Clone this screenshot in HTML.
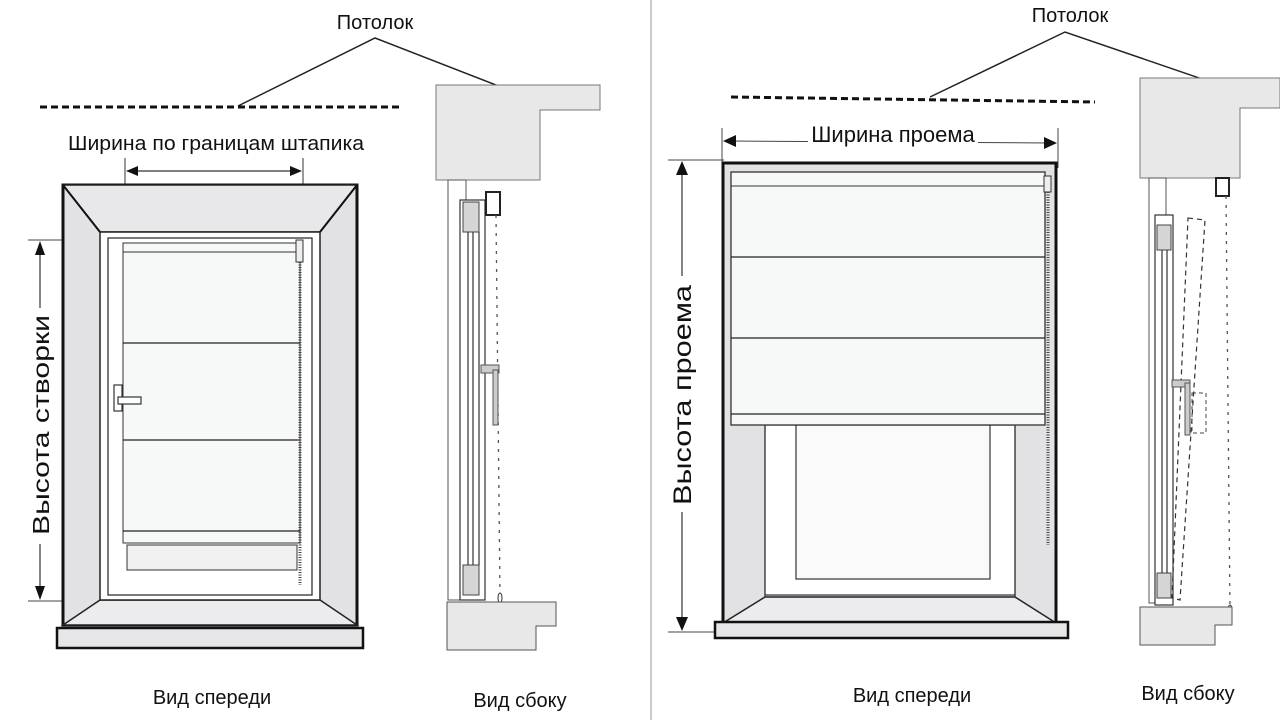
<!DOCTYPE html>
<html><head><meta charset="utf-8"><style>
html,body{margin:0;padding:0;background:#fff;}
svg{display:block;font-family:"Liberation Sans",sans-serif;}
</style></head><body>
<svg width="1280" height="720" viewBox="0 0 1280 720" xmlns="http://www.w3.org/2000/svg">
<rect width="1280" height="720" fill="#fff"/>
<line x1="651" y1="0" x2="651" y2="720" stroke="#bbb" stroke-width="1.5"/>

<!-- ===== LEFT PANEL ===== -->
<text x="375" y="29" font-size="20" text-anchor="middle" fill="#111">Потолок</text>
<polyline points="238,106 375,38 555,108" fill="none" stroke="#222" stroke-width="1.5"/>
<line x1="40" y1="107" x2="400" y2="107" stroke="#111" stroke-width="3" stroke-dasharray="7,4"/>

<!-- width dim -->
<text x="68" y="150" font-size="20" textLength="296" lengthAdjust="spacingAndGlyphs" fill="#111">Ширина по границам штапика</text>
<line x1="125" y1="158" x2="125" y2="262" stroke="#333" stroke-width="1"/>
<line x1="303" y1="158" x2="303" y2="262" stroke="#333" stroke-width="1"/>
<line x1="132" y1="171" x2="296" y2="171" stroke="#333" stroke-width="1.2"/>
<polygon points="126,171 138,166 138,176" fill="#111"/>
<polygon points="302,171 290,166 290,176" fill="#111"/>

<!-- height dim -->
<line x1="28" y1="240" x2="120" y2="240" stroke="#444" stroke-width="1"/>
<line x1="28" y1="601" x2="120" y2="601" stroke="#444" stroke-width="1"/>
<line x1="40" y1="245" x2="40" y2="596" stroke="#333" stroke-width="1.2"/>
<polygon points="40,241 35,255 45,255" fill="#111"/>
<polygon points="40,600 35,586 45,586" fill="#111"/>
<rect x="26" y="308" width="28" height="236" fill="#fff"/>
<text transform="translate(49,535) rotate(-90)" font-size="23" textLength="220" lengthAdjust="spacingAndGlyphs" fill="#111">Высота створки</text>

<!-- front window -->
<rect x="63" y="185" width="294" height="440" fill="#e2e2e4" stroke="#111" stroke-width="3"/>
<polygon points="63,185 357,185 320,232 100,232" fill="#e8e8ea" stroke="#222" stroke-width="1.5"/>
<polygon points="63,625 357,625 320,600 100,600" fill="#ececee" stroke="#222" stroke-width="1.5"/>
<line x1="63" y1="185" x2="100" y2="232" stroke="#111" stroke-width="2"/>
<line x1="357" y1="185" x2="320" y2="232" stroke="#111" stroke-width="2"/>
<rect x="100" y="232" width="220" height="368" fill="#fff" stroke="#222" stroke-width="1.5"/>
<rect x="108" y="238" width="204" height="357" fill="#fff" stroke="#333" stroke-width="1.3"/>
<rect x="123" y="243" width="177" height="300" fill="#f7f8f8" stroke="#333" stroke-width="1"/>
<line x1="123" y1="252" x2="300" y2="252" stroke="#333" stroke-width="1"/>
<line x1="123" y1="343" x2="300" y2="343" stroke="#222" stroke-width="1.3"/>
<line x1="123" y1="440" x2="300" y2="440" stroke="#222" stroke-width="1.3"/>
<line x1="123" y1="531" x2="300" y2="531" stroke="#222" stroke-width="1.3"/>
<rect x="127" y="545" width="170" height="25" fill="#f0f0f0" stroke="#333" stroke-width="1"/>
<rect x="296" y="240" width="7" height="22" fill="#eee" stroke="#333" stroke-width="1"/>
<line x1="300" y1="262" x2="300" y2="585" stroke="#444" stroke-width="3" stroke-dasharray="1,1.5"/>
<rect x="114" y="385" width="8" height="26" fill="#fff" stroke="#333" stroke-width="1.2"/>
<rect x="118" y="397" width="23" height="7" fill="#fff" stroke="#333" stroke-width="1.2"/>
<rect x="57" y="628" width="306" height="20" fill="#e6e6e8" stroke="#111" stroke-width="2.5"/>

<!-- left side view -->
<polygon points="436,85 600,85 600,110 540,110 540,180 436,180" fill="#e8e8e8" stroke="#777" stroke-width="1"/>
<rect x="448" y="180" width="18" height="420" fill="#fff" stroke="#555" stroke-width="1"/>
<rect x="460" y="200" width="25" height="400" fill="#fff" stroke="#333" stroke-width="1.2"/>
<rect x="463" y="202" width="16" height="30" fill="#d5d5d5" stroke="#444" stroke-width="1"/>
<rect x="463" y="565" width="16" height="30" fill="#d5d5d5" stroke="#444" stroke-width="1"/>
<line x1="468" y1="232" x2="468" y2="565" stroke="#333" stroke-width="1.2"/>
<line x1="473" y1="232" x2="473" y2="565" stroke="#333" stroke-width="1.2"/>
<line x1="479" y1="232" x2="479" y2="565" stroke="#333" stroke-width="1.2"/>
<rect x="486" y="192" width="14" height="23" fill="#fff" stroke="#222" stroke-width="2"/>
<line x1="496" y1="215" x2="500" y2="595" stroke="#555" stroke-width="1.3" stroke-dasharray="3,6"/>
<ellipse cx="500" cy="598" rx="2" ry="5" fill="#fff" stroke="#333"/>
<rect x="481" y="365" width="18" height="8" fill="#ccc" stroke="#555" stroke-width="1"/>
<rect x="493" y="370" width="5" height="55" fill="#ccc" stroke="#555" stroke-width="1"/>
<polygon points="447,602 556,602 556,626 536,626 536,650 447,650" fill="#e8e8e8" stroke="#555" stroke-width="1"/>

<text x="212" y="704" font-size="20" text-anchor="middle" fill="#111">Вид спереди</text>
<text x="520" y="707" font-size="20" text-anchor="middle" fill="#111">Вид сбоку</text>

<!-- ===== RIGHT PANEL ===== -->
<text x="1070" y="22" font-size="20" text-anchor="middle" fill="#111">Потолок</text>
<polyline points="930,97 1065,32 1275,104" fill="none" stroke="#222" stroke-width="1.5"/>
<line x1="731" y1="97" x2="1095" y2="102" stroke="#111" stroke-width="3" stroke-dasharray="7,4"/>

<!-- width dim -->
<line x1="722" y1="128" x2="722" y2="165" stroke="#444" stroke-width="1"/>
<line x1="1058" y1="128" x2="1058" y2="168" stroke="#444" stroke-width="1"/>
<line x1="730" y1="141" x2="1050" y2="143" stroke="#444" stroke-width="1"/>
<polygon points="723,141 736,135 736,147" fill="#111"/>
<polygon points="1057,143 1044,137 1044,149" fill="#111"/>
<rect x="808" y="120" width="170" height="30" fill="#fff"/>
<text x="893" y="142" font-size="22" text-anchor="middle" fill="#111">Ширина проема</text>

<!-- height dim -->
<line x1="668" y1="160" x2="724" y2="160" stroke="#444" stroke-width="1"/>
<line x1="668" y1="632" x2="720" y2="632" stroke="#444" stroke-width="1"/>
<line x1="682" y1="165" x2="682" y2="628" stroke="#333" stroke-width="1.2"/>
<polygon points="682,161 676,175 688,175" fill="#111"/>
<polygon points="682,631 676,617 688,617" fill="#111"/>
<rect x="668" y="276" width="30" height="236" fill="#fff"/>
<text transform="translate(691,505) rotate(-90)" font-size="25" textLength="220" lengthAdjust="spacingAndGlyphs" fill="#111">Высота проема</text>

<!-- front window -->
<rect x="723" y="163" width="333" height="460" fill="#e2e2e4" stroke="#111" stroke-width="3"/>
<rect x="765" y="425" width="250" height="170" fill="#fff" stroke="#333" stroke-width="1.2"/>
<rect x="796" y="425" width="194" height="154" fill="#fafafa" stroke="#333" stroke-width="1.2"/>
<polygon points="723,623 1056,623 1015,597 765,597" fill="#ececee" stroke="#222" stroke-width="1.5"/>
<line x1="765" y1="425" x2="765" y2="597" stroke="#333" stroke-width="1.2"/>
<line x1="1015" y1="425" x2="1015" y2="597" stroke="#333" stroke-width="1.2"/>
<rect x="731" y="172" width="314" height="253" fill="#f7f8f8" stroke="#333" stroke-width="1.3"/>
<line x1="731" y1="186" x2="1045" y2="186" stroke="#333" stroke-width="1"/>
<line x1="731" y1="257" x2="1045" y2="257" stroke="#222" stroke-width="1.3"/>
<line x1="731" y1="338" x2="1045" y2="338" stroke="#222" stroke-width="1.3"/>
<line x1="731" y1="414" x2="1045" y2="414" stroke="#222" stroke-width="1.3"/>
<rect x="1044" y="176" width="7" height="16" fill="#eee" stroke="#333" stroke-width="1"/>
<line x1="1048" y1="192" x2="1048" y2="545" stroke="#444" stroke-width="3" stroke-dasharray="1,1.5"/>
<rect x="715" y="622" width="353" height="16" fill="#e6e6e8" stroke="#111" stroke-width="2.5"/>

<!-- right side view -->
<polygon points="1140,78 1280,78 1280,108 1240,108 1240,178 1140,178" fill="#e8e8e8" stroke="#777" stroke-width="1"/>
<rect x="1149" y="178" width="17" height="425" fill="#fff" stroke="#555" stroke-width="1"/>
<rect x="1155" y="215" width="18" height="390" fill="#fff" stroke="#333" stroke-width="1.2"/>
<rect x="1157" y="225" width="14" height="25" fill="#d5d5d5" stroke="#444" stroke-width="1"/>
<rect x="1157" y="573" width="14" height="25" fill="#d5d5d5" stroke="#444" stroke-width="1"/>
<line x1="1162" y1="250" x2="1162" y2="573" stroke="#333" stroke-width="1.2"/>
<line x1="1167" y1="250" x2="1167" y2="573" stroke="#333" stroke-width="1.2"/>
<rect x="1216" y="178" width="13" height="18" fill="#fff" stroke="#222" stroke-width="2"/>
<line x1="1226" y1="196" x2="1230" y2="610" stroke="#555" stroke-width="1.3" stroke-dasharray="3,6"/>
<ellipse cx="1230" cy="610" rx="2" ry="5" fill="#fff" stroke="#333"/>
<polygon points="1188,218 1205,220 1180,600 1172,598" fill="none" stroke="#333" stroke-width="1.2" stroke-dasharray="5,4"/>
<rect x="1172" y="380" width="18" height="7" fill="#ccc" stroke="#555" stroke-width="1"/>
<rect x="1185" y="383" width="5" height="52" fill="#ccc" stroke="#555" stroke-width="1"/>
<rect x="1192" y="393" width="14" height="40" fill="none" stroke="#444" stroke-width="1" stroke-dasharray="4,3"/>
<polygon points="1140,607 1232,607 1232,625 1215,625 1215,645 1140,645" fill="#e8e8e8" stroke="#555" stroke-width="1"/>

<text x="912" y="702" font-size="20" text-anchor="middle" fill="#111">Вид спереди</text>
<text x="1188" y="700" font-size="20" text-anchor="middle" fill="#111">Вид сбоку</text>
</svg>
</body></html>
